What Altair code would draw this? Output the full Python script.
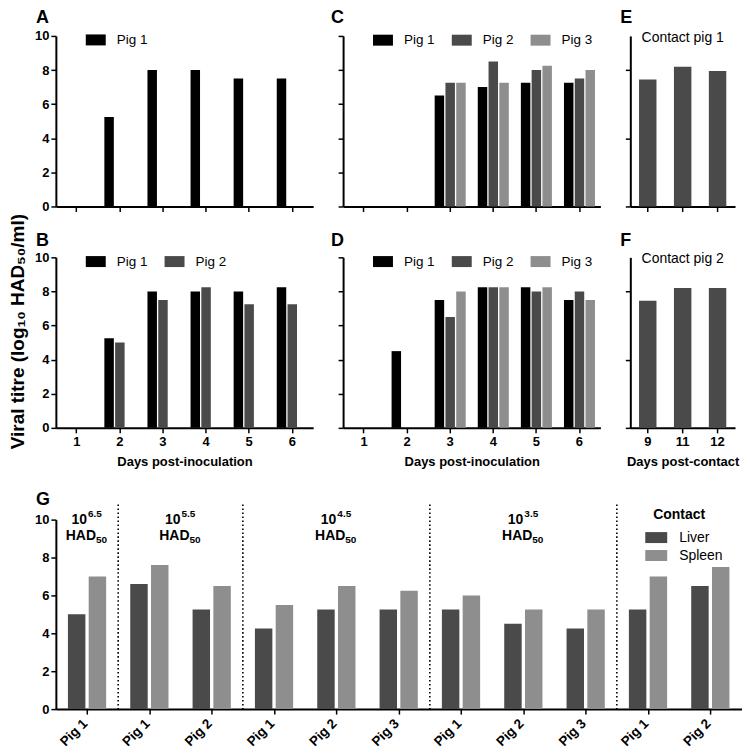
import altair as alt
import pandas as pd

FONT = "Liberation Sans"

# ---------------- data ----------------
days = [1, 2, 3, 4, 5, 6]
pigs = ["Pig 1", "Pig 2", "Pig 3"]
pig_colors = ["#000000", "#4a4a4a", "#8e8e8e"]

a_pig1 = [0, 5.25, 8.0, 8.0, 7.5, 7.5]

b_pig1 = [0, 5.25, 8.0, 8.0, 8.0, 8.25]
b_pig2 = [0, 5.0, 7.5, 8.25, 7.25, 7.25]

c_pig1 = [0, 0, 6.5, 7.0, 7.25, 7.25]
c_pig2 = [0, 0, 7.25, 8.5, 8.0, 7.5]
c_pig3 = [0, 0, 7.25, 7.25, 8.25, 8.0]

d_pig1 = [0, 4.5, 7.5, 8.25, 8.25, 7.5]
d_pig2 = [0, 0, 6.5, 8.25, 8.0, 8.0]
d_pig3 = [0, 0, 8.0, 8.25, 8.25, 7.5]

contact_days = [9, 11, 12]
e_vals = [7.45, 8.2, 7.95]
f_vals = [7.45, 8.2, 8.2]

g_dose = ["6.5", "5.5", "5.5", "4.5", "4.5", "4.5", "3.5", "3.5", "3.5", "C", "C"]
g_pig = ["Pig 1", "Pig 1", "Pig 2", "Pig 1", "Pig 2", "Pig 3", "Pig 1", "Pig 2", "Pig 3", "Pig 1", "Pig 2"]
g_liver = [5.0, 6.6, 5.25, 4.25, 5.25, 5.25, 5.25, 4.5, 4.25, 5.25, 6.5]
g_spleen = [7.0, 7.6, 6.5, 5.5, 6.5, 6.25, 6.0, 5.25, 5.25, 7.0, 7.5]
tissues = ["Liver", "Spleen"]
tissue_colors = ["#4a4a4a", "#8e8e8e"]

Y_TICKS = [0, 2, 4, 6, 8, 10]
RECT_TOP = "M-1,-0.55H1V0.55H-1Z"
RECT_G = "M-1,-0.5H1V0.5H-1Z"
Y_TITLE = "Viral titre (log\u2081\u2080 HAD\u2085\u2080/ml)"

# ---------------- slot domains (band scales) ----------------
slot_domain = []
for i, d in enumerate(days):
    if i > 0:
        slot_domain.append(f"gap{d}")
    slot_domain += [f"{d}|{p}" for p in pigs]
TOP_PI, TOP_PO = 0.12, 0.5


def letter_layer(letter, dx, dy):
    return alt.Chart(pd.DataFrame({"t": [letter]})).mark_text(
        font=FONT, fontSize=18, fontWeight="bold", color="black", align="left",
        baseline="alphabetic"
    ).encode(x=alt.value(dx), y=alt.value(dy), text="t:N")


def y_axis(labels, big_title=False):
    if big_title:
        return alt.Axis(values=Y_TICKS, labels=labels, labelOverlap=False, title=Y_TITLE,
                        titleAngle=270, titleX=-32, titleY=296, titleAlign="center",
                        titleBaseline="alphabetic", titleFontSize=19)
    return alt.Axis(values=Y_TICKS, labels=labels, labelOverlap=False, title=None)


def pig_frame(series):
    rows = []
    for pig, vals in series.items():
        for d, v in zip(days, vals):
            rows.append({"slot": f"{d}|{pig}", "pig": pig, "titre": v})
    return pd.DataFrame(rows)


def top_panel(series, letter, letter_dx, letter_dy, bottom, y_labels, big_title=False):
    df = pig_frame(series)
    present = list(series.keys())
    colors = [pig_colors[pigs.index(p)] for p in present]
    tick_vals = [f"{d}|Pig 2" for d in days]
    if bottom:
        xax = alt.Axis(values=tick_vals, labels=True, labelAngle=0, labelOverlap=False,
                       labelExpr="split(datum.label, '|')[0]", title="Days post-inoculation")
    else:
        xax = alt.Axis(values=tick_vals, labels=False, title=None)
    bars = alt.Chart(df).mark_bar().encode(
        x=alt.X("slot:N", scale=alt.Scale(type="band", domain=slot_domain, paddingInner=TOP_PI,
                                          paddingOuter=TOP_PO), axis=xax),
        y=alt.Y("titre:Q", scale=alt.Scale(domain=[0, 10], nice=False), axis=y_axis(y_labels, big_title)),
        color=alt.Color("pig:N", scale=alt.Scale(domain=present, range=colors),
                        legend=alt.Legend(orient="none", legendX=30, legendY=-6, direction="horizontal",
                                          title=None, symbolType=RECT_TOP, symbolSize=400,
                                          symbolStrokeWidth=0, labelFont=FONT, labelFontSize=13.5,
                                          labelFontWeight="normal", labelColor="black",
                                          labelOffset=11, columnPadding=17, padding=0)),
    )
    return alt.layer(bars, letter_layer(letter, letter_dx, letter_dy)).properties(width=258, height=171)


def contact_panel(vals, letter, letter_dy, label, bottom):
    df = pd.DataFrame({"day": contact_days, "titre": vals})
    if bottom:
        xax = alt.Axis(labels=True, labelAngle=0, title="Days post-contact")
    else:
        xax = alt.Axis(labels=False, title=None)
    x = alt.X("day:O", scale=alt.Scale(type="band", domain=contact_days, paddingInner=0.5,
                                       paddingOuter=0.25), axis=xax)
    bars = alt.Chart(df).mark_bar(color="#4a4a4a").encode(
        x=x,
        y=alt.Y("titre:Q", scale=alt.Scale(domain=[0, 10], nice=False), axis=y_axis(False)),
    )
    txt = alt.Chart(pd.DataFrame({"t": [label]})).mark_text(
        font=FONT, fontSize=14, color="black", baseline="alphabetic", align="center", dy=6
    ).encode(x=alt.XDatum(contact_days[1], type="ordinal"), y=alt.YDatum(10, type="quantitative"),
             text="t:N")
    return alt.layer(bars, txt, letter_layer(letter, -10, letter_dy)).properties(width=105, height=171)


A = top_panel({"Pig 1": a_pig1}, "A", -20, -13, False, True, big_title=True)
C = top_panel({"Pig 1": c_pig1, "Pig 2": c_pig2, "Pig 3": c_pig3}, "C", -12, -13, False, False)
E = contact_panel(e_vals, "E", -13, "Contact pig 1", False)
B = top_panel({"Pig 1": b_pig1, "Pig 2": b_pig2}, "B", -20, -11, True, True)
D = top_panel({"Pig 1": d_pig1, "Pig 2": d_pig2, "Pig 3": d_pig3}, "D", -12, -11, True, False)
F = contact_panel(f_vals, "F", -11, "Contact pig 2", True)

# ---------------- panel G ----------------
g_keys = [f"{d}|{p}" for d, p in zip(g_dose, g_pig)]
g_domain = []
for i, k in enumerate(g_keys):
    if i > 0:
        g_domain.append(f"sp{i}")
    g_domain += [f"{k}|{t}" for t in tissues]

G_W = 687.5
G_PI, G_PO = 0.16, 0.58
g_step = G_W / (len(g_domain) - G_PI + 2 * G_PO)
HALF_GAP = g_step * G_PI / 2   # from the end of a liver bar to the centre of its pair

g_rows = []
for k, lv, sp in zip(g_keys, g_liver, g_spleen):
    g_rows.append({"slot": f"{k}|Liver", "tissue": "Liver", "titre": lv})
    g_rows.append({"slot": f"{k}|Spleen", "tissue": "Spleen", "titre": sp})
g_df = pd.DataFrame(g_rows)

gx_scale = alt.Scale(type="band", domain=g_domain, paddingInner=G_PI, paddingOuter=G_PO)
gx_axis = alt.Axis(values=[f"{k}|Liver" for k in g_keys], bandPosition=1, tickOffset=HALF_GAP,
                   labelOffset=HALF_GAP, labelFontSize=13.5,
                   labelExpr="split(datum.label, '|')[1]", labelAngle=-45, labelAlign="right",
                   labelBaseline="top", labelPadding=2, labelOverlap=False, title=None)
gy_scale = alt.Scale(domain=[0, 10], nice=False)
gy_axis = alt.Axis(values=Y_TICKS, labelOverlap=False, title=None)

g_bars = alt.Chart(g_df).mark_bar().encode(
    x=alt.X("slot:N", scale=gx_scale, axis=gx_axis),
    y=alt.Y("titre:Q", scale=gy_scale, axis=gy_axis),
    color=alt.Color("tissue:N", scale=alt.Scale(domain=tissues, range=tissue_colors),
                    legend=alt.Legend(orient="none", legendX=591, legendY=7, direction="vertical",
                                      title=None, symbolType=RECT_G, symbolSize=484,
                                      symbolStrokeWidth=0, labelFont=FONT, labelFontSize=14,
                                      labelFontWeight="normal", labelColor="black",
                                      labelOffset=12, rowPadding=0, padding=0)),
)

boundaries = [f"sp{i}" for i in range(1, len(g_keys)) if g_dose[i] != g_dose[i - 1]]
g_rules = alt.Chart(pd.DataFrame({"slot": boundaries, "top": [10.8] * len(boundaries),
                                  "bottom": [0] * len(boundaries)})).mark_rule(
    color="black", strokeWidth=1.6, strokeDash=[1.6, 2.4]
).encode(x=alt.X("slot:N", scale=gx_scale, axis=gx_axis, bandPosition=0.5),
         y=alt.Y("top:Q", scale=gy_scale, axis=gy_axis), y2="bottom:Q")

center_labels = pd.DataFrame({"slot": [f"{g_keys[0]}|Liver", f"{g_keys[4]}|Liver", f"{g_keys[7]}|Liver"],
                              "exp": ["6.5", "4.5", "3.5"], "top": [10, 10, 10]})
edge_labels = pd.DataFrame({"slot": ["sp2"], "exp": ["5.5"], "top": [10]})


def dose_label_layers(df, band_pos, shift):
    xenc = alt.X("slot:N", scale=gx_scale, axis=gx_axis, bandPosition=band_pos)
    yenc = alt.Y("top:Q", scale=gy_scale, axis=gy_axis)
    common = dict(font=FONT, fontWeight="bold", color="black", baseline="alphabetic")
    base = alt.Chart(df)
    return [
        base.mark_text(text="10", fontSize=14, align="right", dx=shift, dy=4, **common)
            .encode(x=xenc, y=yenc),
        base.mark_text(fontSize=10, align="left", dx=shift + 1, dy=-3, **common)
            .encode(x=xenc, y=yenc, text="exp:N"),
        base.mark_text(text="HAD", fontSize=14, align="right", dx=shift + 9, dy=20, **common)
            .encode(x=xenc, y=yenc),
        base.mark_text(text="50", fontSize=10, align="left", dx=shift + 9, dy=23, **common)
            .encode(x=xenc, y=yenc),
    ]


contact_lbl = alt.Chart(pd.DataFrame({"slot": ["sp10"], "t": ["Contact"], "top": [10]})).mark_text(
    font=FONT, fontWeight="bold", fontSize=14, color="black", baseline="alphabetic",
    align="center", dy=-1
).encode(x=alt.X("slot:N", scale=gx_scale, axis=gx_axis, bandPosition=0.5),
         y=alt.Y("top:Q", scale=gy_scale, axis=gy_axis), text="t:N")

G = alt.layer(
    g_bars, g_rules, *dose_label_layers(center_labels, 1, HALF_GAP),
    *dose_label_layers(edge_labels, 0.5, 0),
    contact_lbl, letter_layer("G", -20, -15)
).properties(width=G_W, height=190)

grid = alt.concat(A, C, E, B, D, F, columns=3, spacing={"row": 51, "column": 30},
                  bounds="flush").resolve_scale(color="independent")
chart = alt.vconcat(grid, G, spacing=22).resolve_scale(color="independent").properties(
    padding={"left": 1, "top": 0, "right": 0, "bottom": 0}
).configure_view(stroke=None).configure_axis(
    grid=False, domainColor="black", domainWidth=2, tickColor="black", tickWidth=1.5, tickSize=5,
    labelColor="black", labelFont=FONT, labelFontSize=13, labelFontWeight="bold",
    titleColor="black", titleFont=FONT, titleFontSize=13, titleFontWeight="bold"
).configure_axisX(labelPadding=3, titlePadding=7).configure_axisY(labelPadding=2)

chart.save("out.html", embed_options={"renderer": "svg", "actions": False})
